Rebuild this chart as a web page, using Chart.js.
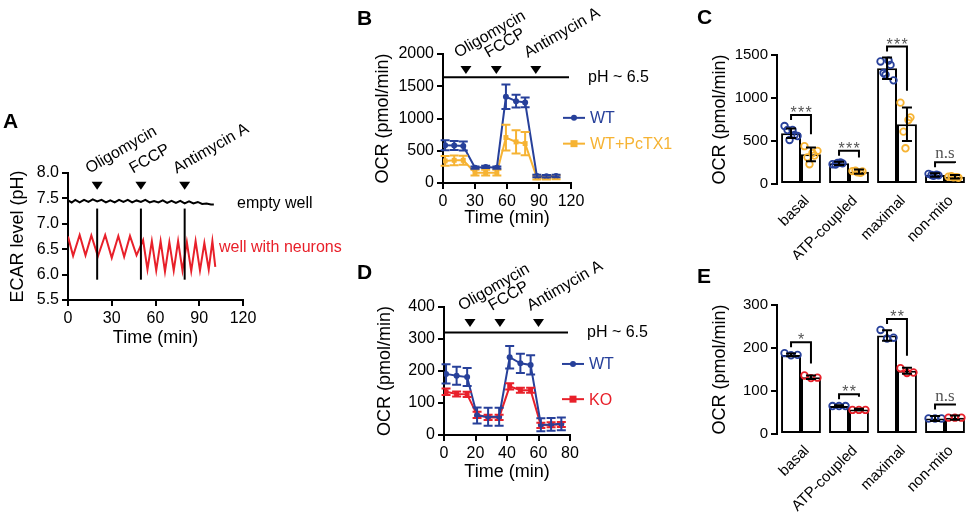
<!DOCTYPE html>
<html>
<head>
<meta charset="utf-8">
<script src="https://cdn.jsdelivr.net/npm/chart.js@4.4.0/dist/chart.umd.min.js"></script>
<style>
  html, body { margin: 0; padding: 0; background: #fff; }
  #fig { position: relative; width: 972px; height: 513px; overflow: hidden; }
  canvas { position: absolute; }
  .lbl { position: absolute; font: bold 21px "Liberation Sans", Arial, sans-serif; line-height: 1; }
</style>
</head>
<body>
<div id="fig">
  <canvas id="cA" width="360" height="250" style="left:0;top:100px"></canvas>
  <canvas id="cB" width="345" height="240" style="left:340px;top:0"></canvas>
  <canvas id="cD" width="345" height="263" style="left:340px;top:250px"></canvas>
  <canvas id="cC" width="332" height="260" style="left:640px;top:0"></canvas>
  <canvas id="cE" width="332" height="253" style="left:640px;top:260px"></canvas>
  <div class="lbl" style="left:3px;top:110px">A</div>
  <div class="lbl" style="left:357px;top:7px">B</div>
  <div class="lbl" style="left:697px;top:6px">C</div>
  <div class="lbl" style="left:357px;top:261px">D</div>
  <div class="lbl" style="left:697px;top:265px">E</div>
</div>
<script>
// ---------- data ----------
// A: ECAR traces
const aBlackTime = [0, 2.5, 5, 8, 11, 14, 17, 20, 23, 26, 29, 32, 35, 38, 41, 44, 47, 50, 53, 56, 59, 62, 65, 68, 71, 74, 77, 80, 83, 86, 89, 92, 95, 98, 100];
const aBlackPH = [7.46, 7.42, 7.47, 7.42, 7.47, 7.43, 7.48, 7.44, 7.47, 7.42, 7.46, 7.42, 7.47, 7.43, 7.47, 7.42, 7.46, 7.43, 7.47, 7.42, 7.45, 7.42, 7.46, 7.41, 7.45, 7.41, 7.45, 7.40, 7.44, 7.40, 7.43, 7.39, 7.40, 7.38, 7.38];
const aRedTime = [0, 3.5, 8, 12, 16, 20.5, 25.5, 30, 34.5, 38.5, 42.5, 47, 51.5, 54.5, 57.5, 60.5, 63.5, 66.5, 69.5, 72.5, 75.5, 78.5, 81.5, 84.5, 87.5, 90.5, 93.5, 96.5, 99, 101];
const aRedPH = [6.75, 6.37, 6.78, 6.38, 6.77, 6.36, 6.78, 6.33, 6.76, 6.35, 6.76, 6.38, 6.68, 6.10, 6.66, 6.08, 6.66, 6.06, 6.64, 6.08, 6.66, 6.08, 6.64, 6.07, 6.66, 6.08, 6.62, 6.10, 6.66, 6.15];
const aInjTime = [20, 50, 80];

// B: OCR WT vs WT+PcTX1
const bTime = [2, 10.5, 19, 30, 40, 50.5, 59, 68.5, 77, 88, 97, 106];
const bWT = [585, 580, 575, 238, 249, 238, 1337, 1269, 1249, 109, 105, 108];
const bWTErr = [78, 70, 70, 18, 18, 18, 190, 100, 75, 20, 20, 20];
const bPc = [342, 352, 352, 160, 160, 160, 705, 637, 611, 83, 85, 90];
const bPcErr = [75, 75, 70, 45, 45, 45, 200, 180, 180, 30, 30, 30];
const bInjTime = [21.5, 50, 87];

// D: OCR WT vs KO
const dTime = [1.3, 8, 14.7, 21, 28, 35, 41.7, 48.5, 55, 61.5, 68, 74.5];
const dWT = [191, 185, 181, 61, 57, 57, 243, 224, 219, 32, 33, 35];
const dWTErr = [30, 28, 28, 25, 28, 28, 35, 30, 30, 20, 20, 20];
const dKO = [135, 128, 127, 63, 55, 55, 152, 140, 140, 30, 32, 33];
const dKOErr = [10, 8, 8, 10, 8, 8, 10, 8, 8, 8, 8, 8];
const dInjTime = [16.5, 35.5, 60];

const injNames = ['Oligomycin', 'FCCP', 'Antimycin A'];

// C, E: respiration parameters
const groups = ['basal', 'ATP-coupled', 'maximal', 'non-mito'];
const cWTMean = [590, 240, 1345, 105];
const cWTErr = [55, 20, 125, 20];
const cPcMean = [345, 143, 694, 85];
const cPcErr = [80, 25, 195, 20];
const cWTPts = [[674, 628, 570, 628, 512, 558], [230, 250, 240, 225, 245], [1425, 1435, 1385, 1290, 1270, 1205], [118, 108, 100, 104, 95]];
const cPcPts = [[440, 360, 330, 310, 230, 385], [150, 130, 145, 155, 135], [946, 744, 775, 609, 415], [85, 80, 72, 90, 78]];
const cSig = ['***', '***', '***', 'n.s'];

const eWTMean = [184, 65, 229, 36];
const eWTErr = [3, 2, 12, 6];
const eKOMean = [132, 57, 147, 38];
const eKOErr = [4, 2, 7, 5];
const eWTPts = [[188, 183, 184], [65, 65, 65], [242, 222, 224], [36, 36, 36]];
const eKOPts = [[136, 130, 131], [56, 56, 56], [153, 142, 143], [38, 38, 38]];
const eSig = ['*', '**', '**', 'n.s'];

// ---------- styling ----------
const FONT = '"Liberation Sans", Arial, Helvetica, sans-serif';
const BLUE = '#27409a';
const ORANGE = '#f6b333';
const RED = '#e8202a';

Chart.defaults.font.family = FONT;
Chart.defaults.color = '#000';
Chart.defaults.animation = false;
Chart.defaults.plugins.legend.display = false;
Chart.defaults.plugins.tooltip.enabled = false;

function xy(xs, ys) { return xs.map((x, i) => ({ x: x, y: ys[i] })); }

function linAxis(min, max, step, fontSize, fitSize, isY, title, titlePad, fmt) {
  return {
    type: 'linear', min: min, max: max,
    border: { display: true, color: '#000', width: 2 },
    grid: { display: true, drawOnChartArea: false, drawTicks: true, tickLength: 6, color: '#000', lineWidth: 2 },
    ticks: {
      stepSize: step, color: '#000', padding: 3, font: { size: fontSize },
      maxRotation: 0, minRotation: 0, autoSkip: false,
      callback: fmt || (v => v)
    },
    title: { display: true, text: title, color: '#000', font: { size: 18 }, padding: titlePad },
    afterFit: s => { if (isY) s.width = fitSize; else s.height = fitSize; }
  };
}

// injection triangles + rotated drug names (+ optional vertical lines for A)
function injectPlugin(times, triVal, vLine) {
  return {
    id: 'inject',
    afterDraw(chart) {
      const { ctx, scales: { x, y } } = chart;
      ctx.save();
      ctx.fillStyle = '#000';
      ctx.strokeStyle = '#000';
      times.forEach((t, i) => {
        const px = x.getPixelForValue(t);
        const py = y.getPixelForValue(triVal);
        if (vLine) {
          ctx.lineWidth = 2;
          ctx.beginPath();
          ctx.moveTo(px, y.getPixelForValue(vLine[0]));
          ctx.lineTo(px, y.getPixelForValue(vLine[1]));
          ctx.stroke();
        }
        ctx.beginPath();
        ctx.moveTo(px - 5.5, py - 4);
        ctx.lineTo(px + 5.5, py - 4);
        ctx.lineTo(px, py + 4);
        ctx.closePath();
        ctx.fill();
        ctx.save();
        ctx.translate(px - 8, py - 12);
        ctx.rotate(-Math.PI / 6);
        ctx.font = '16px ' + FONT;
        ctx.textBaseline = 'alphabetic';
        ctx.fillText(injNames[i], 0, 0);
        ctx.restore();
      });
      ctx.restore();
    }
  };
}

// error bars for the time courses
const errPlugin = {
  id: 'errbars',
  afterDatasetsDraw(chart) {
    const { ctx } = chart;
    const y = chart.scales.y;
    for (let di = chart.data.datasets.length - 1; di >= 0; di--) {
      const ds = chart.data.datasets[di];
      if (!ds.errors) continue;
      const meta = chart.getDatasetMeta(di);
      ctx.save();
      ctx.strokeStyle = ds.borderColor;
      ctx.lineWidth = 2;
      meta.data.forEach((pt, i) => {
        const v = ds.data[i].y, e = ds.errors[i];
        const top = y.getPixelForValue(v + e), bot = y.getPixelForValue(v - e);
        ctx.beginPath();
        ctx.moveTo(pt.x, top); ctx.lineTo(pt.x, bot);
        ctx.moveTo(pt.x - 4.5, top); ctx.lineTo(pt.x + 4.5, top);
        ctx.moveTo(pt.x - 4.5, bot); ctx.lineTo(pt.x + 4.5, bot);
        ctx.stroke();
      });
      ctx.restore();
    }
  }
};

// pH line, "pH ~ 6.5" text and the legend at the right of B / D
function sideLegendPlugin(phVal, legY) {
  return {
    id: 'sideLegend',
    afterDraw(chart) {
      const { ctx, chartArea, scales: { x, y } } = chart;
      ctx.save();
      const py = y.getPixelForValue(phVal);
      ctx.strokeStyle = '#000';
      ctx.lineWidth = 2;
      ctx.beginPath();
      ctx.moveTo(chartArea.left, py);
      ctx.lineTo(chartArea.right - 2, py);
      ctx.stroke();
      ctx.font = '16px ' + FONT;
      ctx.textBaseline = 'middle';
      ctx.fillStyle = '#000';
      ctx.fillText('pH ~ 6.5', chartArea.right + 17, py);
      chart.data.datasets.forEach((ds, i) => {
        const ly = y.getPixelForValue(legY[i]);
        const x0 = chartArea.right - 8, x1 = chartArea.right + 14;
        ctx.strokeStyle = ds.borderColor;
        ctx.fillStyle = ds.borderColor;
        ctx.lineWidth = 2;
        ctx.beginPath(); ctx.moveTo(x0, ly); ctx.lineTo(x1, ly); ctx.stroke();
        const mx = (x0 + x1) / 2;
        if (ds.pointStyle === 'rect') ctx.fillRect(mx - 3.5, ly - 3.5, 7, 7);
        else { ctx.beginPath(); ctx.arc(mx, ly, 3, 0, Math.PI * 2); ctx.fill(); }
        ctx.fillText(ds.label, chartArea.right + 19, ly + 1);
      });
      ctx.restore();
    }
  };
}

function courseDataset(label, xs, ys, errs, color, style) {
  return {
    label: label, data: xy(xs, ys), errors: errs,
    borderColor: color, backgroundColor: color, borderWidth: 2,
    pointStyle: style, pointRadius: style === 'rect' ? 3.5 : 3, pointBorderWidth: 0,
    tension: 0
  };
}

// ---------- A ----------
new Chart(document.getElementById('cA'), {
  type: 'line',
  data: {
    datasets: [
      { data: xy(aBlackTime, aBlackPH), borderColor: '#000', borderWidth: 2, pointRadius: 0, tension: 0 },
      { data: xy(aRedTime, aRedPH), borderColor: RED, borderWidth: 2, pointRadius: 0, tension: 0 }
    ]
  },
  options: {
    responsive: false,
    layout: { padding: { left: 0, right: 117, top: 73, bottom: 0 } },
    scales: {
      x: linAxis(0, 120, 30, 16, 50, false, 'Time (min)', { top: 0, bottom: 1 }),
      y: linAxis(5.5, 8.0, 0.5, 16, 68, true, 'ECAR level (pH)', { top: 7, bottom: 0 }, v => v.toFixed(1))
    }
  },
  plugins: [
    injectPlugin(aInjTime, 7.75, [7.3, 5.9]),
    {
      id: 'aLabels',
      afterDraw(chart) {
        const { ctx, chartArea, scales: { y } } = chart;
        ctx.save();
        ctx.font = '16px ' + FONT;
        ctx.textBaseline = 'middle';
        ctx.fillStyle = '#000';
        ctx.fillText('empty well', chartArea.right - 6, y.getPixelForValue(7.4));
        ctx.fillStyle = RED;
        ctx.fillText('well with neurons', chartArea.right - 24, y.getPixelForValue(6.54));
        ctx.restore();
      }
    }
  ]
});

// ---------- B ----------
new Chart(document.getElementById('cB'), {
  type: 'line',
  data: {
    datasets: [
      courseDataset('WT', bTime, bWT, bWTErr, BLUE, 'circle'),
      courseDataset('WT+PcTX1', bTime, bPc, bPcErr, ORANGE, 'rect')
    ]
  },
  options: {
    responsive: false,
    layout: { padding: { left: 0, right: 114, top: 54, bottom: 0 } },
    scales: {
      x: linAxis(0, 120, 30, 16, 57, false, 'Time (min)', { top: 0, bottom: 11 }),
      y: linAxis(0, 2000, 500, 16, 103, true, 'OCR (pmol/min)', { top: 32, bottom: 0 })
    }
  },
  plugins: [errPlugin, injectPlugin(bInjTime, 1752), sideLegendPlugin(1640, [1010, 610])]
});

// ---------- D ----------
new Chart(document.getElementById('cD'), {
  type: 'line',
  data: {
    datasets: [
      courseDataset('WT', dTime, dWT, dWTErr, BLUE, 'circle'),
      courseDataset('KO', dTime, dKO, dKOErr, RED, 'rect')
    ]
  },
  options: {
    responsive: false,
    layout: { padding: { left: 0, right: 115, top: 57, bottom: 0 } },
    scales: {
      x: linAxis(0, 80, 20, 16, 78, false, 'Time (min)', { top: 0, bottom: 30 }),
      y: linAxis(0, 400, 100, 16, 104, true, 'OCR (pmol/min)', { top: 34, bottom: 0 })
    }
  },
  plugins: [errPlugin, injectPlugin(dInjTime, 350), sideLegendPlugin(320, [222, 112])]
});

// ---------- C / E bar charts ----------
function barExtras(ptsSets, sigs) {
  return {
    id: 'barExtras',
    afterDatasetsDraw(chart) {
      const { ctx } = chart;
      const y = chart.scales.y;
      const his = [[], []];
      chart.data.datasets.forEach((ds, di) => {
        const meta = chart.getDatasetMeta(di);
        meta.data.forEach((bar, i) => {
          const pts = ptsSets[di][i];
          const n = pts.length;
          ctx.save();
          ctx.strokeStyle = ds.pointColor;
          ctx.lineWidth = 1.8;
          pts.forEach((v, j) => {
            const off = n <= 3 ? (j - 1) * 6.5 : ((j % 3) - 1) * 5 + (j % 2 ? 1.5 : -1.5);
            ctx.beginPath();
            ctx.arc(bar.x + off, y.getPixelForValue(v), 3.3, 0, Math.PI * 2);
            ctx.stroke();
          });
          // error bar
          const m = ds.data[i], e = ds.errors[i];
          const top = y.getPixelForValue(m + e), bot = y.getPixelForValue(m - e);
          ctx.strokeStyle = '#000';
          ctx.lineWidth = 2;
          ctx.beginPath();
          ctx.moveTo(bar.x, top); ctx.lineTo(bar.x, bot);
          ctx.moveTo(bar.x - 5, top); ctx.lineTo(bar.x + 5, top);
          ctx.moveTo(bar.x - 5, bot); ctx.lineTo(bar.x + 5, bot);
          ctx.stroke();
          ctx.restore();
          his[di][i] = y.getPixelForValue(Math.max(m + e, ...pts));
        });
      });
      // significance brackets
      const m0 = chart.getDatasetMeta(0), m1 = chart.getDatasetMeta(1);
      sigs.forEach((s, i) => {
        const x0 = m0.data[i].x, x1 = m1.data[i].x;
        const top = Math.min(his[0][i], his[1][i]) - 11;
        ctx.save();
        ctx.strokeStyle = '#000';
        ctx.lineWidth = 2;
        ctx.beginPath();
        ctx.moveTo(x0, top + 5);
        ctx.lineTo(x0, top);
        ctx.lineTo(x1, top);
        ctx.lineTo(x1, his[1][i] - 12);
        ctx.stroke();
        ctx.fillStyle = '#555';
        ctx.textAlign = 'center';
        ctx.textBaseline = 'alphabetic';
        const cx = (x0 + x1) / 2;
        if (s === 'n.s') {
          ctx.font = '17px "Liberation Serif", "Times New Roman", serif';
          ctx.fillText(s, cx, top - 4);
        } else {
          ctx.font = '16px ' + FONT;
          for (let k = 0; k < s.length; k++) {
            ctx.fillText('*', cx + (k - (s.length - 1) / 2) * 7.5, top + 3);
          }
        }
        ctx.restore();
      });
    }
  };
}

function barChart(id, max, step, top, xH, wt, wtErr, other, otherErr, otherColor, pts, sigs) {
  return new Chart(document.getElementById(id), {
    type: 'bar',
    data: {
      labels: groups,
      datasets: [
        { data: wt, errors: wtErr, pointColor: BLUE },
        { data: other, errors: otherErr, pointColor: otherColor }
      ].map(d => Object.assign(d, {
        backgroundColor: '#fff', borderColor: '#000', borderWidth: 2, borderSkipped: false,
        categoryPercentage: 0.83, barPercentage: 1.0
      }))
    },
    options: {
      responsive: false,
      layout: { padding: { left: 0, right: 3, top: top, bottom: 0 } },
      scales: {
        x: {
          type: 'category',
          border: { display: false },
          grid: { display: false, drawTicks: false },
          ticks: { color: '#000', font: { size: 15 }, minRotation: 45, maxRotation: 45, padding: 8, labelOffset: 6 },
          afterFit: s => { s.height = xH; }
        },
        y: linAxis(0, max, step, 15, 137, true, 'OCR (pmol/min)', { top: 69, bottom: 0 })
      }
    },
    plugins: [barExtras(pts, sigs)]
  });
}

barChart('cC', 1500, 500, 55, 76, cWTMean, cWTErr, cPcMean, cPcErr, ORANGE, [cWTPts, cPcPts], cSig);
barChart('cE', 300, 100, 45, 79, eWTMean, eWTErr, eKOMean, eKOErr, RED, [eWTPts, eKOPts], eSig);
</script>
</body>
</html>
